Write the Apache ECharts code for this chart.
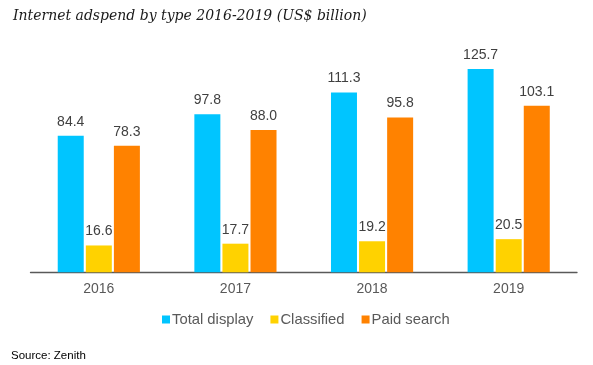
<!DOCTYPE html>
<html>
<head>
<meta charset="utf-8">
<script src="https://cdn.jsdelivr.net/npm/echarts@6/dist/echarts.min.js"></script>
<style>
html,body{margin:0;padding:0;background:#fff;}
#chart{width:593px;height:365px;}
</style>
</head>
<body>
<div id="chart"></div>
<script>
const categories = ['2016', '2017', '2018', '2019'];
const totalDisplay = [84.4, 97.8, 111.3, 125.7];
const classified = [16.6, 17.7, 19.2, 20.5];
const paidSearch = [78.3, 88.0, 95.8, 103.1];
const seriesNames = ['Total display', 'Classified', 'Paid search'];
const colors = ['#00c5ff', '#ffd200', '#ff8200'];

const FONT = '"Liberation Sans", Arial, sans-serif';
const chart = echarts.init(document.getElementById('chart'), null, {renderer: 'canvas'});
const label = {
  show: true, position: 'top', distance: 7,
  color: '#404040', fontSize: 14, fontFamily: FONT,
  formatter: p => p.value.toFixed(1)
};
function mk(name, data, color) {
  return {
    name, type: 'bar', data, barWidth: 26, barGap: '8%',
    itemStyle: {color}, label, emphasis: {disabled: true}
  };
}
chart.setOption({
  animation: false,
  title: [{
    text: 'Internet adspend by type 2016-2019 (US$ billion)',
    left: 8, top: 4,
    textStyle: {fontFamily: 'DejaVu Serif', fontStyle: 'italic', fontWeight: 'normal', fontSize: 14, color: '#1a1a1a'}
  }, {
    text: 'Source: Zenith',
    left: 6, top: 345,
    textStyle: {fontFamily: FONT, fontWeight: 'normal', fontSize: 11.5, color: '#000'}
  }],
  legend: {
    data: seriesNames, top: 307, left: 157,
    itemWidth: 8, itemHeight: 8, itemGap: 17, icon: 'rect',
    textStyle: {fontFamily: FONT, fontSize: 14.8, color: '#595959', padding: [0, 0, 0, -3]}
  },
  grid: {left: 30.5, right: 16, top: 46, bottom: 92.7},
  xAxis: {
    type: 'category', data: categories,
    axisLine: {lineStyle: {color: '#595959', width: 1.3}},
    axisTick: {inside: true, length: 5, lineStyle: {color: '#595959'}},
    axisLabel: {color: '#595959', fontSize: 14, fontFamily: FONT, margin: 10}
  },
  yAxis: {
    type: 'value', min: 0, max: 140,
    show: false, splitLine: {show: false}
  },
  series: [
    mk(seriesNames[0], totalDisplay, colors[0]),
    mk(seriesNames[1], classified, colors[1]),
    mk(seriesNames[2], paidSearch, colors[2])
  ]
});
</script>
</body>
</html>
